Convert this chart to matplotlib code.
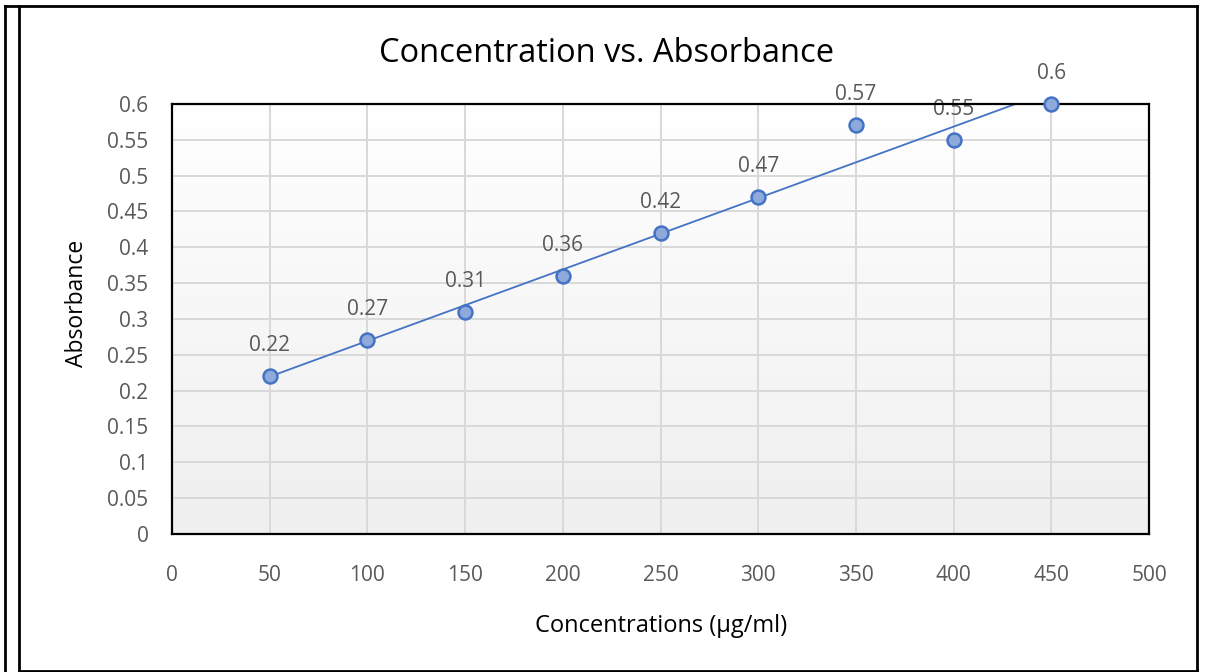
import matplotlib.pyplot as plt
import numpy as np
from matplotlib.lines import Line2D
from matplotlib.colors import LinearSegmentedColormap

conc = [50, 100, 150, 200, 250, 300, 350, 400, 450]
absorb = [0.22, 0.27, 0.31, 0.36, 0.42, 0.47, 0.57, 0.55, 0.6]
xticks = [0, 50, 100, 150, 200, 250, 300, 350, 400, 450, 500]
yticks = [0, 0.05, 0.1, 0.15, 0.2, 0.25, 0.3, 0.35, 0.4, 0.45, 0.5, 0.55, 0.6]

plt.rcParams['font.family'] = ['Open Sans', 'DejaVu Sans']

fig = plt.figure(figsize=(12.08, 6.72), dpi=100)
ax = fig.add_axes([0.1424, 0.2054, 0.8088, 0.6399])

# fond en dégradé
grad = np.linspace(1, 0, 256).reshape(-1, 1)
cmap = LinearSegmentedColormap.from_list('g', ['#efefef', '#ffffff'])
ax.imshow(grad, extent=[0, 1, 0, 1], transform=ax.transAxes, aspect='auto',
          cmap=cmap, zorder=0)

ax.set_xlim(0, 500)
ax.set_ylim(0, 0.6)
ax.set_xticks(xticks)
ax.set_yticks(yticks)
ax.set_xticklabels([str(v) for v in xticks])
ax.set_yticklabels(['%g' % v for v in yticks])
ax.tick_params(length=0, labelsize=15, colors='#595959', pad=17)
ax.tick_params(axis='x', pad=22)
ax.grid(True, color='#d9d9d9', lw=1.4, zorder=1)
ax.set_axisbelow(True)
for s in ax.spines.values():
    s.set_linewidth(1.6)
    s.set_color('black')
    s.set_zorder(3)

# courbe de tendance
a, b = np.polyfit(conc, absorb, 1)
xt = np.array([conc[0], conc[-1]])
ax.plot(xt, a * xt + b, color='#4472C4', lw=1.3, zorder=2)

ax.plot(conc, absorb, 'o', ms=10, mfc='#8eaadb', mec='#4472C4', mew=1.8,
        zorder=4, clip_on=False)
for x, y in zip(conc, absorb):
    ax.annotate('%g' % y, (x, y), xytext=(0, 22), textcoords='offset points',
                ha='center', va='center', fontsize=15, color='#595959',
                annotation_clip=False)

fig.text(0.5025, 0.921, 'Concentration vs. Absorbance', ha='center', va='center',
         fontsize=23.5, color='black')
fig.text(0.547, 0.068, 'Concentrations (µg/ml)', ha='center', va='center',
         fontsize=17, color='black')
fig.text(0.0637, 0.549, 'Absorbance', ha='center', va='center', rotation=90,
         fontsize=16.5, color='black')

# cadre
W, H = 1208, 672
def seg(x0, y0, x1, y1):
    fig.add_artist(Line2D([x0 / W, x1 / W], [1 - y0 / H, 1 - y1 / H],
                          color='black', lw=2, transform=fig.transFigure))
seg(5, 6, 5, 672)
seg(19, 6, 19, 671)
seg(5, 6, 1197, 6)
seg(1197, 6, 1197, 671)
seg(19, 671, 1197, 671)

fig.savefig('out.png', dpi=100)
